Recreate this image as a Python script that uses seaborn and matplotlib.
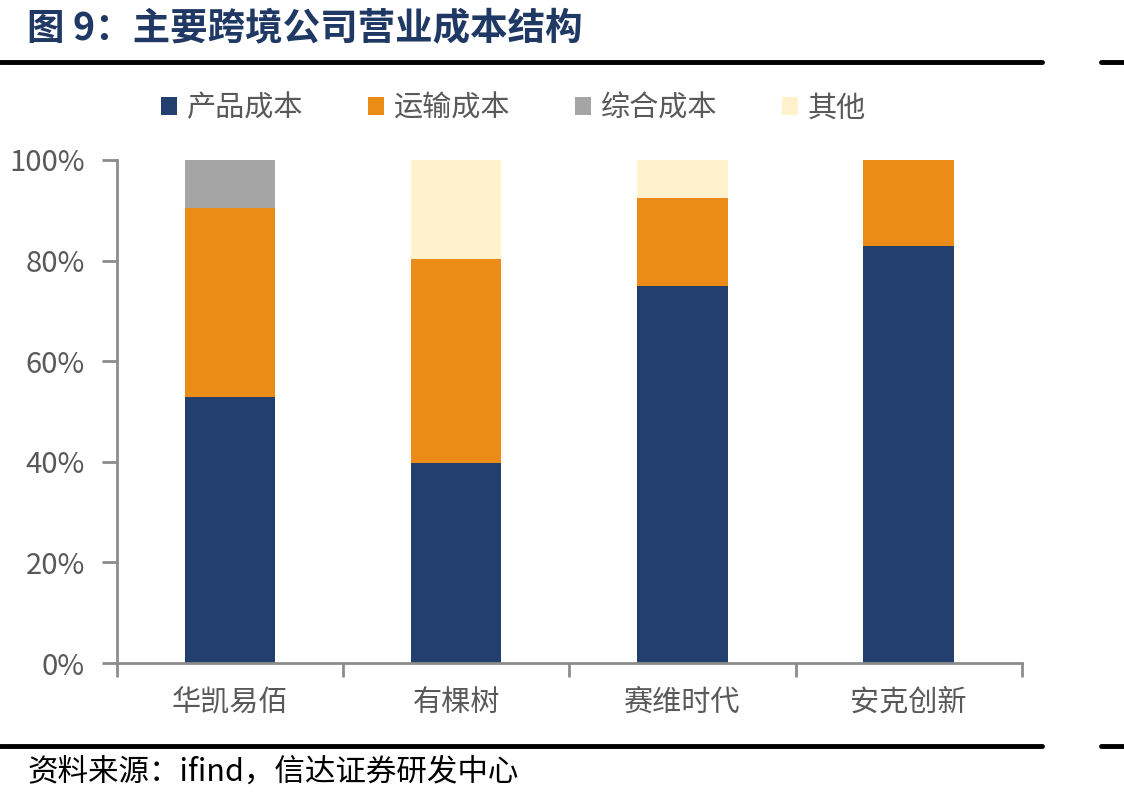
import seaborn as sns
import pandas as pd
import matplotlib.pyplot as plt
import numpy as np
from matplotlib.lines import Line2D
from matplotlib.patches import Patch
from matplotlib.ticker import PercentFormatter, FixedLocator

# 数据
companies = ["华凯易佰", "有棵树", "赛维时代", "安克创新"]
product_cost = [52.9, 39.8, 75.0, 82.9]
transport_cost = [37.6, 40.5, 17.4, 17.1]
general_cost = [9.5, 0.0, 0.0, 0.0]
other_cost = [0.0, 19.7, 7.6, 0.0]

series_names = ["产品成本", "运输成本", "综合成本", "其他"]
colors = ["#233F6E", "#EB8C17", "#A5A5A5", "#FFF2CC"]

sns.set_style("white")
plt.rcParams["font.family"] = ["Noto Sans CJK SC", "DejaVu Sans"]

df = pd.DataFrame({
    "company": companies,
    "产品成本": product_cost,
    "运输成本": transport_cost,
    "综合成本": general_cost,
    "其他": other_cost,
})
# 累计值, 从上往下画
cum = df[series_names].cumsum(axis=1) / 100

fig = plt.figure(figsize=(11.24, 8.02), dpi=100)
ax = fig.add_axes([0.104, 0.1733, 0.805, 0.6272])

for name, col in reversed(list(zip(series_names, colors))):
    sns.barplot(x=df["company"], y=cum[name], color=col, width=0.4,
                saturation=1, ax=ax, linewidth=0)

ax.set_ylim(0, 1)
ax.set_xlim(-0.5, 3.5)
ax.yaxis.set_major_formatter(PercentFormatter(1.0, decimals=0))
ax.set_yticks(np.arange(0, 1.01, 0.2))
ax.set_xlabel("")
ax.set_ylabel("")

for s in ["top", "right"]:
    ax.spines[s].set_visible(False)
for s in ["left", "bottom"]:
    ax.spines[s].set_color("#8C8C8C")
    ax.spines[s].set_linewidth(2)

ax.tick_params(axis="y", length=11, width=2, color="#8C8C8C", labelsize=21,
               labelcolor="#595959", pad=12, left=True)
ax.tick_params(axis="x", which="major", length=0, labelsize=21,
               labelcolor="#595959", pad=18)
ax.xaxis.set_minor_locator(FixedLocator([-0.5, 0.5, 1.5, 2.5, 3.5]))
ax.tick_params(axis="x", which="minor", length=10, width=2, color="#8C8C8C",
               bottom=True)

handles = [Patch(facecolor=c, edgecolor="none") for c in colors]
fig.legend(handles, series_names, loc="center", bbox_to_anchor=(0.457, 0.865),
           ncol=4, frameon=False, fontsize=21, handlelength=0.55,
           handleheight=0.55, handletextpad=0.35, columnspacing=2.2,
           labelcolor="#595959")

# 标题与分隔线
fig.text(0.024, 0.966, "图 9：主要跨境公司营业成本结构", fontsize=27,
         fontweight="bold", color="#1F3864", va="center", ha="left")
for yy in [0.9227, 0.0698]:
    fig.add_artist(Line2D([0, 0.927], [yy, yy], color="black", lw=3.5))
    fig.add_artist(Line2D([0.9795, 1.0], [yy, yy], color="black", lw=3.5))

fig.text(0.024, 0.037, "资料来源：ifind，信达证券研发中心", fontsize=22,
         style="italic", color="black", va="center", ha="left")

fig.savefig("out.png", dpi=100)
